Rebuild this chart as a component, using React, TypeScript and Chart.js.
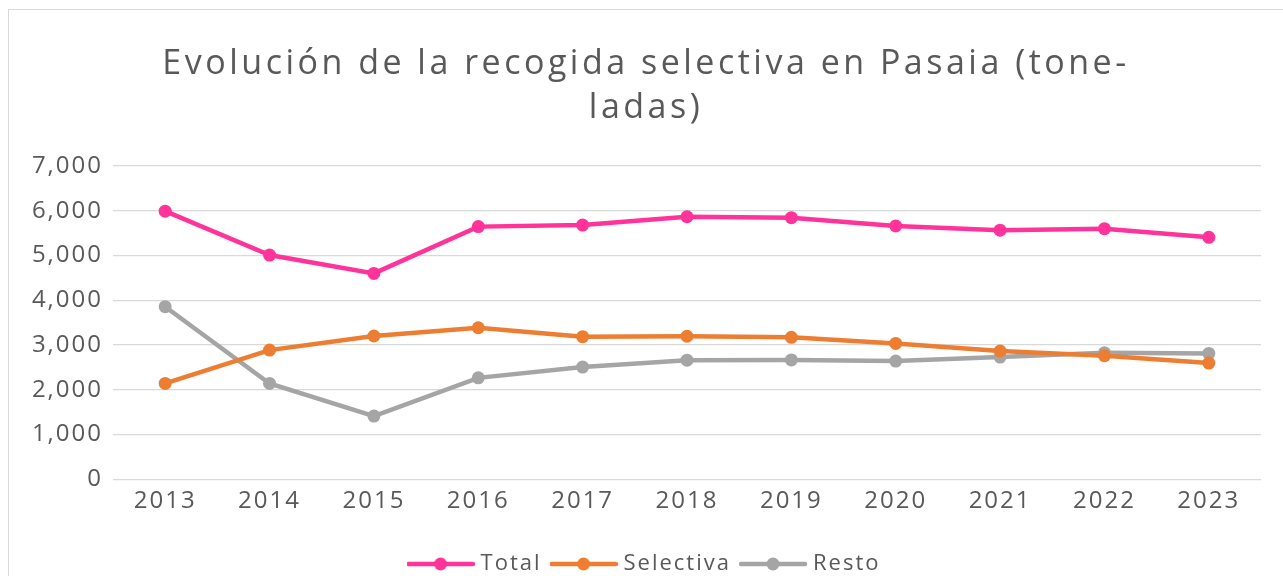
import React, { useEffect, useRef } from "react";
import { Chart, registerables } from "chart.js";

Chart.register(...registerables);

const years = ["2013", "2014", "2015", "2016", "2017", "2018", "2019", "2020", "2021", "2022", "2023"];
const total = [5990, 5010, 4600, 5645, 5680, 5865, 5845, 5660, 5565, 5600, 5405];
const selectiva = [2140, 2885, 3200, 3385, 3185, 3195, 3170, 3035, 2865, 2760, 2595];
const resto = [3855, 2140, 1410, 2265, 2505, 2660, 2665, 2640, 2730, 2825, 2810];
const seriesNames = ["Total", "Selectiva", "Resto"];
const seriesColors = ["#FF3399", "#ED7D31", "#A5A5A5"];
const titleLines = ["Evolución de la recogida selectiva en Pasaia (tone-", "ladas)"];

const FONT = "'Open Sans', 'Noto Sans', sans-serif";
const TEXT = "#595959";
const GRID = "#D9D9D9";

function legendImage(color: string): HTMLCanvasElement {
  const c = document.createElement("canvas");
  c.width = 68;
  c.height = 14;
  const g = c.getContext("2d")!;
  g.strokeStyle = color;
  g.lineWidth = 4.5;
  g.lineCap = "round";
  g.beginPath();
  g.moveTo(2, 7);
  g.lineTo(66, 7);
  g.stroke();
  g.fillStyle = color;
  g.beginPath();
  g.arc(34, 7, 6.5, 0, Math.PI * 2);
  g.fill();
  return c;
}

const spacingPlugin = {
  id: "spacing",
  beforeUpdate(chart: any) {
    chart.ctx.letterSpacing = "2px";
    const tb = chart.titleBlock;
    if (tb && !tb.__wrapped) {
      const orig = tb.draw;
      tb.draw = function (...args: any[]) {
        const ctx = chart.ctx;
        const prev = ctx.letterSpacing;
        ctx.letterSpacing = "3.5px";
        orig.apply(this, args);
        ctx.letterSpacing = prev;
      };
      tb.__wrapped = true;
    }
  },
  beforeDraw(chart: any) {
    chart.ctx.letterSpacing = "2px";
  },
};

export default function App() {
  const ref = useRef<HTMLCanvasElement>(null);
  useEffect(() => {
    const imgs = seriesColors.map(legendImage);
    const values = [total, selectiva, resto];
    const chart = new Chart(ref.current!, {
      type: "line",
      data: {
        labels: years,
        datasets: seriesNames.map((name, i) => ({
          label: name,
          data: values[i],
          borderColor: seriesColors[i],
          backgroundColor: seriesColors[i],
          borderWidth: 4.5,
          pointRadius: 6.5,
          pointHoverRadius: 6.5,
          pointBorderWidth: 0,
          pointBackgroundColor: seriesColors[i],
          tension: 0,
          fill: false,
        })),
      },
      options: {
        animation: false,
        responsive: true,
        maintainAspectRatio: false,
        layout: { padding: { left: 0, right: 0, top: 0, bottom: -9 } },
        plugins: {
          title: {
            display: true,
            text: titleLines,
            color: TEXT,
            font: { family: FONT, size: 34, weight: "normal", lineHeight: 1.294 },
            padding: { top: 32, bottom: 36 },
          },
          legend: {
            position: "bottom",
            labels: {
              color: TEXT,
              font: { family: FONT, size: 22 },
              usePointStyle: true,
              pointStyleWidth: 58,
              padding: 13,
              generateLabels: (ch: any) =>
                Chart.defaults.plugins.legend.labels
                  .generateLabels(ch)
                  .map((it: any, i: number) => ({ ...it, pointStyle: imgs[i] })),
            },
          },
          tooltip: { enabled: false },
        },
        scales: {
          x: {
            offset: true,
            grid: { display: false },
            border: { display: false },
            afterFit: (s: any) => {
              s.height += 24;
            },
            ticks: { color: TEXT, font: { family: FONT, size: 24 }, padding: 0, maxRotation: 0 },
          },
          y: {
            min: 0,
            max: 7000,
            afterFit: (s: any) => {
              s.width = 104;
            },
            grid: { color: GRID, lineWidth: 1.3, drawTicks: false },
            border: { display: false },
            ticks: {
              stepSize: 1000,
              color: TEXT,
              padding: 10,
              font: { family: FONT, size: 24 },
              callback: (v: any) => Number(v).toLocaleString("en-US"),
            },
          },
          yRight: {
            position: "right",
            display: true,
            grid: { display: false, drawTicks: false },
            border: { display: false },
            ticks: { display: false },
            afterFit: (s: any) => {
              s.width = 22;
            },
          },
        },
      },
      plugins: [spacingPlugin],
    });
    return () => chart.destroy();
  }, []);
  return (
    <div
      style={{
        position: "fixed",
        left: 8,
        top: 9,
        width: 1275,
        height: 567,
        borderTop: "1.5px solid #D9D9D9",
        borderLeft: "1.5px solid #D9D9D9",
        background: "#fff",
        boxSizing: "border-box",
      }}
    >
      <div style={{ position: "absolute", left: 0, top: 0, right: 0, bottom: 0 }}>
        <canvas ref={ref} />
      </div>
    </div>
  );
}
